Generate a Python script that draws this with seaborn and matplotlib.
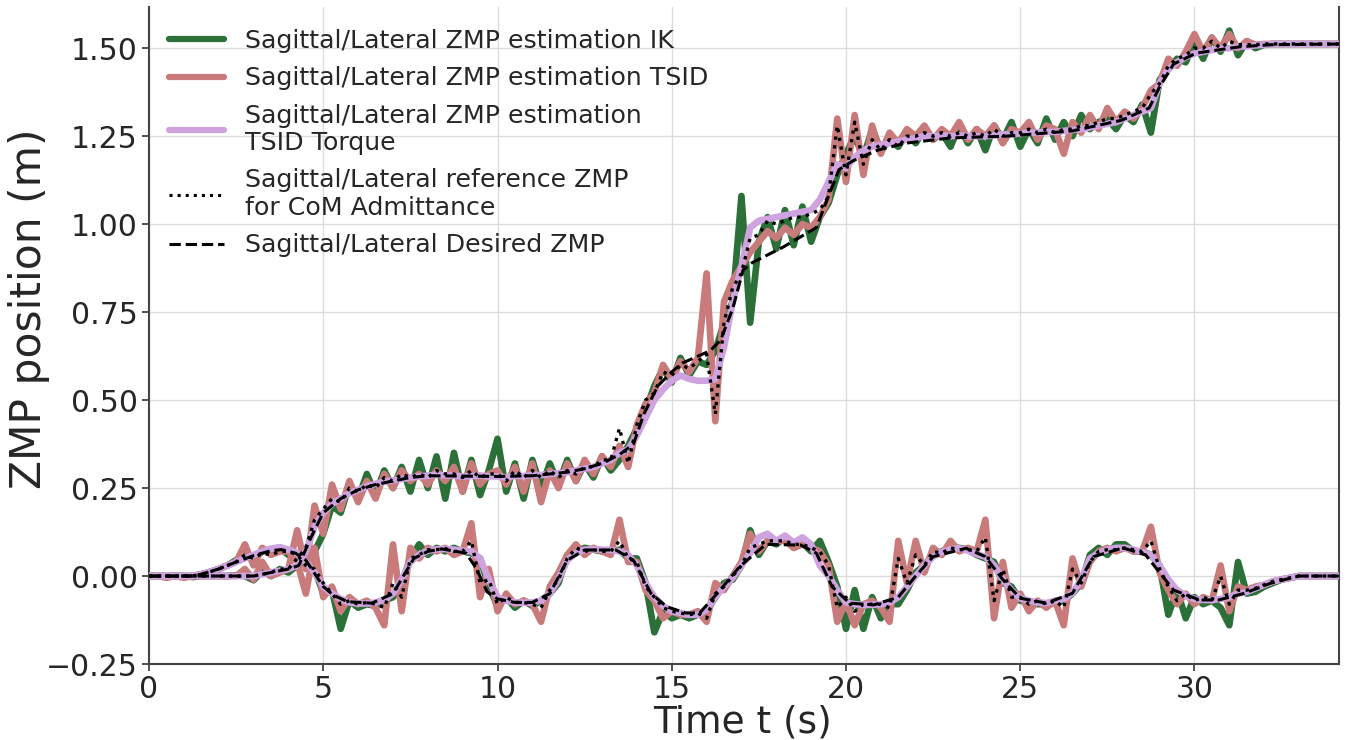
import numpy as np
import pandas as pd
import matplotlib
matplotlib.use("Agg")
import matplotlib.pyplot as plt
import seaborn as sns

# ---------------- data ----------------
# time samples of the measured signals (s)
t = np.round(np.arange(0, 34.26, 0.25), 2)

# Sagittal channel
sag_ik = [0, 0, 0, 0, 0, -0.003, 0, 0,
          0, 0, 0.002, 0, -0.012, 0.015, 0.0, 0.02,
          0.01, 0.03, 0.04, 0.07, 0.12, 0.20, 0.18, 0.26,
          0.22, 0.29, 0.23, 0.30, 0.25, 0.31, 0.24, 0.33,
          0.25, 0.34, 0.22, 0.35, 0.24, 0.33, 0.23, 0.30,
          0.39, 0.24, 0.32, 0.22, 0.33, 0.25, 0.32, 0.26,
          0.33, 0.27, 0.32, 0.28, 0.34, 0.30, 0.33, 0.37,
          0.42, 0.47, 0.54, 0.59, 0.55, 0.62, 0.57, 0.61,
          0.60, 0.64, 0.72, 0.78, 1.08, 0.72, 0.95, 1.02,
          0.93, 1.04, 0.94, 1.05, 0.95, 1.02, 1.06, 1.14,
          1.20, 1.25, 1.19, 1.27, 1.21, 1.24, 1.22, 1.26,
          1.23, 1.27, 1.24, 1.26, 1.22, 1.28, 1.23, 1.27,
          1.21, 1.28, 1.24, 1.29, 1.22, 1.27, 1.23, 1.30,
          1.24, 1.29, 1.25, 1.31, 1.27, 1.29, 1.30, 1.27,
          1.31, 1.29, 1.34, 1.26, 1.41, 1.44, 1.47, 1.46,
          1.52, 1.47, 1.53, 1.49, 1.55, 1.48, 1.52, 1.50,
          1.51, 1.512, 1.512, 1.512, 1.512, 1.512, 1.512, 1.512,
          1.512, 1.512]
sag_tsid = [0, 0, 0, 0, -0.005, 0, 0, 0,
            0, 0, 0.0, 0.02, -0.01, 0.04, 0.0, 0.01,
            0.02, 0.13, 0.02, 0.20, 0.12, 0.26, 0.19, 0.27,
            0.21, 0.27, 0.22, 0.29, 0.25, 0.30, 0.27, 0.29,
            0.26, 0.30, 0.27, 0.31, 0.24, 0.32, 0.26, 0.29,
            0.30, 0.26, 0.31, 0.24, 0.32, 0.21, 0.30, 0.25,
            0.32, 0.27, 0.33, 0.29, 0.34, 0.31, 0.37, 0.31,
            0.43, 0.49, 0.52, 0.60, 0.56, 0.61, 0.58, 0.62,
            0.86, 0.44, 0.78, 0.84, 0.88, 0.92, 0.95, 0.98,
            0.96, 0.99, 0.97, 1.00, 0.99, 1.02, 1.07, 1.30,
            1.12, 1.31, 1.14, 1.28, 1.20, 1.26, 1.23, 1.27,
            1.25, 1.28, 1.24, 1.27, 1.25, 1.29, 1.24, 1.27,
            1.25, 1.28, 1.23, 1.27, 1.26, 1.29, 1.24, 1.28,
            1.27, 1.20, 1.29, 1.26, 1.31, 1.27, 1.33, 1.29,
            1.32, 1.30, 1.33, 1.38, 1.40, 1.47, 1.45, 1.49,
            1.54, 1.49, 1.53, 1.50, 1.54, 1.50, 1.52, 1.51,
            1.512, 1.512, 1.512, 1.512, 1.512, 1.512, 1.512, 1.512,
            1.512, 1.512]
sag_torque = [0, 0, 0, 0, 0, 0, 0, 0,
              0, 0, 0, 0, 0, 0.005, 0.01, 0.015,
              0.02, 0.03, 0.07, 0.14, 0.18, 0.205, 0.22, 0.235,
              0.245, 0.255, 0.262, 0.268, 0.272, 0.276, 0.28, 0.283,
              0.285, 0.288, 0.286, 0.285, 0.283, 0.284, 0.286, 0.283,
              0.283, 0.28, 0.285, 0.284, 0.287, 0.287, 0.29, 0.292,
              0.295, 0.30, 0.305, 0.31, 0.32, 0.33, 0.35, 0.36,
              0.40, 0.45, 0.50, 0.53, 0.555, 0.57, 0.56, 0.555,
              0.555, 0.56, 0.65, 0.78, 0.88, 0.99, 1.01, 1.015,
              1.02, 1.025, 1.03, 1.035, 1.04, 1.07, 1.12, 1.17,
              1.16, 1.19, 1.21, 1.22, 1.225, 1.23, 1.235, 1.24,
              1.245, 1.25, 1.25, 1.252, 1.25, 1.252, 1.25, 1.25,
              1.25, 1.252, 1.255, 1.255, 1.258, 1.26, 1.26, 1.262,
              1.262, 1.265, 1.268, 1.27, 1.275, 1.28, 1.285, 1.29,
              1.30, 1.31, 1.32, 1.33, 1.40, 1.44, 1.46, 1.475,
              1.485, 1.49, 1.495, 1.50, 1.50, 1.505, 1.505, 1.508,
              1.51, 1.512, 1.512, 1.512, 1.512, 1.512, 1.512, 1.512,
              1.512, 1.512]
sag_ref = [0, 0, 0, 0, 0, 0, 0, 0,
           0, 0, 0, 0, 0, 0.005, 0.01, 0.02,
           0.02, 0.05, 0.08, 0.16, 0.19, 0.22, 0.21, 0.25,
           0.24, 0.26, 0.25, 0.28, 0.27, 0.29, 0.28, 0.29,
           0.28, 0.30, 0.29, 0.29, 0.28, 0.30, 0.28, 0.29,
           0.29, 0.27, 0.30, 0.28, 0.30, 0.28, 0.30, 0.28,
           0.30, 0.29, 0.31, 0.31, 0.33, 0.33, 0.42, 0.32,
           0.43, 0.50, 0.52, 0.58, 0.57, 0.60, 0.59, 0.61,
           0.63, 0.46, 0.72, 0.82, 0.86, 0.96, 0.97, 1.01,
           1.00, 1.01, 1.02, 1.02, 1.03, 1.04, 1.08, 1.28,
           1.14, 1.29, 1.17, 1.24, 1.21, 1.24, 1.22, 1.25,
           1.25, 1.26, 1.25, 1.26, 1.25, 1.26, 1.25, 1.26,
           1.25, 1.27, 1.25, 1.26, 1.26, 1.27, 1.26, 1.27,
           1.26, 1.27, 1.27, 1.28, 1.28, 1.29, 1.30, 1.30,
           1.31, 1.32, 1.33, 1.37, 1.40, 1.45, 1.47, 1.48,
           1.50, 1.50, 1.52, 1.50, 1.52, 1.51, 1.51, 1.51,
           1.512, 1.512, 1.512, 1.512, 1.512, 1.512, 1.512, 1.512,
           1.512, 1.512]

# Lateral channel
lat_ik = [0, 0, 0, 0, 0, 0, 0.005, 0.012,
          0.02, 0.03, 0.045, 0.06, 0.05, 0.07, 0.075, 0.08,
          0.06, 0.065, 0.03, 0.02, -0.05, -0.04, -0.15, -0.07,
          -0.09, -0.08, -0.085, -0.07, -0.06, -0.02, 0.05, 0.09,
          0.06, 0.08, 0.07, 0.08, 0.07, 0.065, 0.05, -0.03,
          -0.085, -0.06, -0.09, -0.07, -0.085, -0.07, -0.05, -0.02,
          0.06, 0.07, 0.08, 0.075, 0.07, 0.07, 0.075, 0.05,
          0.05, -0.02, -0.16, -0.10, -0.12, -0.11, -0.12, -0.11,
          -0.10, -0.06, -0.02, -0.01, 0.03, 0.13, 0.06, 0.10,
          0.09, 0.11, 0.08, 0.095, 0.07, 0.10, 0.04, -0.03,
          -0.15, -0.04, -0.15, -0.06, -0.12, -0.08, -0.08, -0.04,
          0.01, 0.03, 0.06, 0.07, 0.08, 0.08, 0.075, 0.06,
          0.05, 0.04, -0.02, -0.03, -0.07, -0.075, -0.08, -0.08,
          -0.075, -0.07, -0.05, -0.02, 0.06, 0.08, 0.06, 0.09,
          0.09, 0.07, 0.07, 0.06, 0.03, -0.11, -0.04, -0.12,
          -0.06, -0.08, -0.07, -0.09, -0.14, 0.04, -0.05, -0.045,
          -0.03, -0.02, -0.01, -0.005, 0, 0, 0, 0,
          0, 0]
lat_tsid = [0, 0, -0.005, 0, 0, 0, 0.005, 0.01,
            0.02, 0.03, 0.04, 0.09, 0.03, 0.08, 0.06, 0.07,
            0.07, 0.04, -0.05, 0.08, -0.06, -0.03, -0.10, -0.06,
            -0.08, -0.07, -0.09, -0.14, 0.09, -0.10, 0.08, 0.05,
            0.08, 0.07, 0.08, 0.06, 0.07, 0.15, -0.06, 0.02,
            -0.10, -0.05, -0.08, -0.07, -0.08, -0.13, -0.03, 0.01,
            0.06, 0.09, 0.06, 0.08, 0.07, 0.06, 0.16, 0.04,
            0.04, -0.04, -0.07, -0.12, -0.10, -0.11, -0.11, -0.10,
            -0.13, -0.02, -0.04, 0.0, 0.04, 0.12, 0.07, 0.10,
            0.10, 0.10, 0.08, 0.09, 0.08, 0.07, 0.03, -0.13,
            -0.07, -0.14, -0.08, -0.07, -0.09, -0.13, 0.10, -0.02,
            0.10, 0.01, 0.08, 0.06, 0.10, 0.07, 0.08, 0.07,
            0.16, -0.12, 0.04, -0.09, -0.05, -0.10, -0.07, -0.09,
            -0.07, -0.14, 0.05, -0.03, 0.04, 0.07, 0.08, 0.07,
            0.08, 0.07, 0.07, 0.14, 0.01, -0.04, -0.08, -0.05,
            -0.08, -0.06, -0.07, 0.03, -0.10, -0.03, -0.04, -0.03,
            -0.025, -0.015, -0.01, -0.005, 0, 0, 0, 0,
            0, 0]
lat_torque = [0, 0, 0, 0, 0, 0, 0.005, 0.012,
              0.02, 0.03, 0.04, 0.05, 0.06, 0.07, 0.078, 0.082,
              0.075, 0.065, 0.04, 0.01, -0.03, -0.05, -0.065, -0.075,
              -0.078, -0.078, -0.075, -0.068, -0.05, -0.01, 0.04, 0.06,
              0.072, 0.076, 0.077, 0.075, 0.072, 0.07, 0.05, -0.01,
              -0.06, -0.07, -0.075, -0.076, -0.075, -0.07, -0.05, -0.01,
              0.045, 0.065, 0.075, 0.076, 0.075, 0.074, 0.07, 0.06,
              0.03, -0.02, -0.06, -0.085, -0.10, -0.105, -0.11, -0.11,
              -0.095, -0.06, -0.03, -0.005, 0.03, 0.065, 0.11, 0.12,
              0.10, 0.115, 0.095, 0.11, 0.09, 0.03, 0.0, -0.04,
              -0.075, -0.08, -0.082, -0.082, -0.08, -0.075, -0.06, -0.03,
              0.0, 0.03, 0.055, 0.068, 0.076, 0.079, 0.072, 0.062,
              0.055, 0.03, -0.01, -0.04, -0.063, -0.07, -0.075, -0.077,
              -0.07, -0.065, -0.049, -0.01, 0.05, 0.065, 0.075, 0.08,
              0.08, 0.075, 0.068, 0.06, 0.03, -0.01, -0.04, -0.055,
              -0.065, -0.068, -0.068, -0.065, -0.06, -0.05, -0.045, -0.035,
              -0.025, -0.015, -0.01, -0.005, 0, 0, 0, 0,
              0, 0]
lat_ref = [0, 0, 0, 0, 0, 0, 0.005, 0.012,
           0.02, 0.03, 0.04, 0.06, 0.05, 0.065, 0.06, 0.07,
           0.07, 0.06, 0.03, 0.02, -0.02, -0.05, -0.08, -0.07,
           -0.08, -0.075, -0.08, -0.09, -0.02, -0.06, 0.05, 0.06,
           0.075, 0.075, 0.078, 0.07, 0.07, 0.10, -0.02, -0.01,
           -0.08, -0.06, -0.075, -0.075, -0.08, -0.09, -0.04, -0.01,
           0.05, 0.08, 0.07, 0.075, 0.07, 0.07, 0.10, 0.05,
           0.04, -0.03, -0.06, -0.09, -0.10, -0.105, -0.11, -0.105,
           -0.12, -0.05, -0.03, 0.0, 0.03, 0.08, 0.09, 0.10,
           0.10, 0.10, 0.09, 0.09, 0.08, 0.07, 0.03, -0.09,
           -0.06, -0.10, -0.08, -0.08, -0.08, -0.09, 0.05, -0.02,
           0.06, 0.03, 0.07, 0.065, 0.08, 0.075, 0.075, 0.07,
           0.11, -0.07, 0.02, -0.06, -0.06, -0.08, -0.07, -0.08,
           -0.07, -0.09, 0.02, -0.02, 0.04, 0.07, 0.075, 0.075,
           0.08, 0.075, 0.07, 0.10, 0.02, -0.03, -0.07, -0.05,
           -0.07, -0.06, -0.07, 0.0, -0.08, -0.04, -0.04, -0.035,
           -0.025, -0.015, -0.01, -0.005, 0, 0, 0, 0,
           0, 0]

# Desired ZMP (piecewise, read at key times)
des_sag_t = [0, 1.0, 3.0, 3.5, 4.0, 4.3, 4.6, 5.0, 5.5, 6.0, 6.5, 7.0, 7.5, 8.0,
             10.0, 11.0, 12.0, 12.5, 13.0, 13.5, 13.9, 14.2, 14.6, 15.0, 15.3,
             16.1, 16.4, 16.75, 17.05, 17.3, 18.2, 19.15, 19.5, 19.8, 20.2,
             20.9, 21.7, 23.0, 24.6, 26.5, 27.9, 28.7, 29.0, 29.4, 30.05,
             31.3, 32.2, 34.3]
des_sag_v = [0, 0, 0, 0.01, 0.02, 0.03, 0.10, 0.18, 0.22, 0.245, 0.26, 0.27, 0.28, 0.285,
             0.283, 0.285, 0.295, 0.305, 0.32, 0.345, 0.375, 0.46, 0.54, 0.58, 0.605,
             0.64, 0.67, 0.76, 0.87, 0.89, 0.935, 0.99, 1.08, 1.155, 1.18,
             1.21, 1.23, 1.245, 1.25, 1.265, 1.295, 1.33, 1.39, 1.455, 1.486,
             1.504, 1.51, 1.512]
des_lat_t = [0, 1.2, 1.5, 2.0, 2.5, 3.0, 3.5, 3.8, 4.2, 4.5, 4.8, 5.0, 5.3, 5.7,
             6.4, 7.0, 7.3, 7.6, 8.0, 8.4, 9.1, 9.4, 9.7, 10.0, 10.5, 11.0,
             11.5, 12.0, 12.5, 13.4, 13.9, 14.4, 14.85, 15.4, 15.8, 16.3,
             16.95, 17.7, 18.7, 19.15, 19.6, 20.1, 20.8, 21.5, 22.0, 22.5,
             23.45, 24.0, 24.5, 25.0, 25.75, 26.5, 27.1, 27.95, 28.6, 29.4,
             30.15, 30.7, 31.4, 32.2, 33.0, 34.3]
des_lat_v = [0, 0, 0.005, 0.02, 0.04, 0.058, 0.072, 0.075, 0.065, 0.045, 0.0, -0.03, -0.055, -0.073,
             -0.077, -0.05, 0.0, 0.05, 0.07, 0.077, 0.065, 0.02, -0.045, -0.065, -0.075, -0.075,
             -0.05, 0.045, 0.074, 0.074, 0.045, -0.049, -0.087, -0.105, -0.105, -0.05,
             0.027, 0.09, 0.088, 0.065, -0.03, -0.077, -0.082, -0.06, 0.0, 0.055,
             0.079, 0.055, -0.01, -0.063, -0.077, -0.049, 0.055, 0.08, 0.06, -0.04,
             -0.068, -0.068, -0.05, -0.02, 0.0, 0.0]

labels = ["Sagittal/Lateral ZMP estimation IK",
          "Sagittal/Lateral ZMP estimation TSID",
          "Sagittal/Lateral ZMP estimation\nTSID Torque",
          "Sagittal/Lateral reference ZMP\nfor CoM Admittance",
          "Sagittal/Lateral Desired ZMP"]
x_ticks = [0, 5, 10, 15, 20, 25, 30]
y_ticks = [-0.25, 0.0, 0.25, 0.50, 0.75, 1.00, 1.25, 1.50]

# ---------------- styling ----------------
sns.set_theme(style="whitegrid")
plt.rcParams['font.family'] = ['DejaVu Sans']

C_IK = "#2b7038"
C_TSID = "#c97b7b"
C_TQ = "#cfa3e0"

fig = plt.figure(figsize=(13.5, 7.4), dpi=100)
ax = fig.add_axes([0.1104, 0.1027, 0.8815, 0.8878])

def draw(x, y, color, lw, ls="-", label=None, z=2):
    sns.lineplot(x=x, y=y, ax=ax, color=color, lw=lw, linestyle=ls,
                 label=label, legend=label is not None, estimator=None,
                 sort=False, zorder=z)

draw(t, sag_ik, C_IK, 4.8, label=labels[0], z=2)
draw(t, lat_ik, C_IK, 4.8, z=2)
draw(t, sag_tsid, C_TSID, 4.8, label=labels[1], z=3)
draw(t, lat_tsid, C_TSID, 4.8, z=3)
draw(t, sag_torque, C_TQ, 4.8, label=labels[2], z=4)
draw(t, lat_torque, C_TQ, 4.8, z=4)
draw(t, sag_ref, "black", 2.4, ls=":", label=labels[3], z=5)
draw(t, lat_ref, "black", 2.4, ls=":", z=5)
draw(des_sag_t, des_sag_v, "black", 2.2, ls="--", label=labels[4], z=6)
draw(des_lat_t, des_lat_v, "black", 2.2, ls="--", z=6)

ax.set_xlim(0, 34.15)
ax.set_ylim(-0.25, 1.617)
ax.set_xticks(x_ticks)
ax.set_yticks(y_ticks)
ax.set_yticklabels([f"{v:.2f}".replace("-", "\u2212") for v in y_ticks])
ax.tick_params(axis="both", labelsize=21.5, length=5, width=1.2,
               color="#333333", labelcolor="#262626", pad=3,
               left=True, bottom=True)
ax.set_xlabel("Time t (s)", fontsize=27, color="#262626")
ax.set_ylabel("ZMP position (m)", fontsize=30.5, color="#262626")
ax.xaxis.set_label_coords(0.499, -0.062)
ax.yaxis.set_label_coords(-0.083, 0.54)

ax.grid(True, color="#dcdcdc", lw=1.0)
for side in ["left", "bottom", "right"]:
    ax.spines[side].set_visible(True)
    ax.spines[side].set_color("#444444")
    ax.spines[side].set_linewidth(1.5)
ax.spines["top"].set_visible(False)

leg = ax.legend(loc="upper left", bbox_to_anchor=(0.0, 0.997), frameon=False,
                fontsize=18.2, handlelength=2.15, handletextpad=0.85,
                labelspacing=0.52, borderaxespad=0.4)
for line in leg.get_lines():
    line.set_linewidth(4.5 if line.get_linestyle() == "-" else 2.2)
for txt in leg.get_texts():
    txt.set_color("#262626")
    txt.set_linespacing(1.2)

fig.savefig("out.png", dpi=100)
